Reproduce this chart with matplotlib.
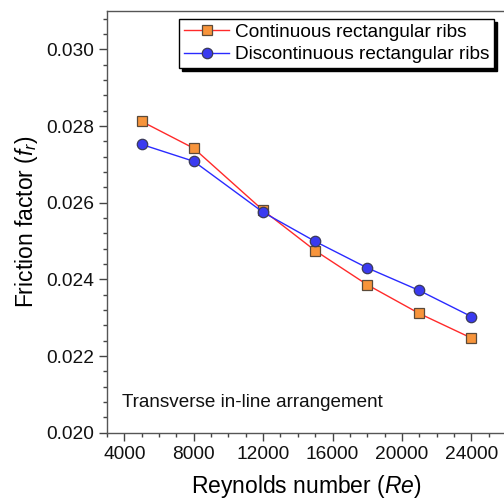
import matplotlib
matplotlib.use("Agg")
import matplotlib.pyplot as plt
from matplotlib.ticker import MultipleLocator

plt.rcParams["font.family"] = ["Liberation Sans", "DejaVu Sans"]
plt.rcParams["mathtext.fontset"] = "custom"
plt.rcParams["mathtext.rm"] = "Liberation Sans"
plt.rcParams["mathtext.it"] = "Liberation Sans:italic"

re_values = [5000, 8000, 12000, 15000, 18000, 21000, 24000]
continuous = [0.02812, 0.02742, 0.02580, 0.02475, 0.02386, 0.02311, 0.02247]
discontinuous = [0.02752, 0.02708, 0.02575, 0.02499, 0.02430, 0.02371, 0.02303]
x_ticks = [4000, 8000, 12000, 16000, 20000, 24000]
y_ticks = [0.020, 0.022, 0.024, 0.026, 0.028, 0.030]

fig = plt.figure(figsize=(5.04, 5.01), dpi=100)
ax = fig.add_axes([0.2123, 0.1363, 0.7917, 0.8417])

ax.plot(re_values, continuous, "-s", color="#ff2a2a", lw=1.0,
        markerfacecolor="#f7943b", markeredgecolor="#5a4a3a", markeredgewidth=0.9,
        markersize=6.5, label="Continuous rectangular ribs", zorder=3)
ax.plot(re_values, discontinuous, "-o", color="#2a2aff", lw=1.0,
        markerfacecolor="#3a3af0", markeredgecolor="#3a3a5a", markeredgewidth=0.9,
        markersize=7.5, label="Discontinuous rectangular ribs", zorder=4)

ax.set_xlim(3000, 26000)
ax.set_ylim(0.020, 0.031)
ax.set_xticks(x_ticks)
ax.set_yticks(y_ticks)
ax.set_yticklabels([f"{v:.3f}" for v in y_ticks])
ax.xaxis.set_minor_locator(MultipleLocator(1000))
ax.yaxis.set_minor_locator(MultipleLocator(0.0004))
ax.tick_params(which="major", direction="out", length=6, width=1, labelsize=13.8,
               color="#444444", labelcolor="#111111")
ax.tick_params(which="minor", direction="out", length=3, width=1, color="#444444")
ax.tick_params(top=False, right=False)
for s in ax.spines.values():
    s.set_color("#555555")
    s.set_linewidth(1.0)

ax.set_xlabel("Reynolds number ($\\mathit{Re}$)", fontsize=16.5, labelpad=7)
ax.set_ylabel("Friction factor ($\\mathit{f_r}$)", fontsize=16.5, labelpad=4)

ax.text(0.038, 0.06, "Transverse in-line arrangement", transform=ax.transAxes,
        fontsize=13.6, color="#111111")

leg = ax.legend(loc="upper right", bbox_to_anchor=(0.98, 0.99), fontsize=13.7,
                fancybox=False, shadow={"color": "black", "alpha": 1},
                edgecolor="black", framealpha=1, borderpad=0.25,
                labelspacing=0.25, handlelength=2.4, handletextpad=0.3,
                borderaxespad=0.2)
leg.get_frame().set_linewidth(1.0)

fig.savefig("out.png", dpi=100)
